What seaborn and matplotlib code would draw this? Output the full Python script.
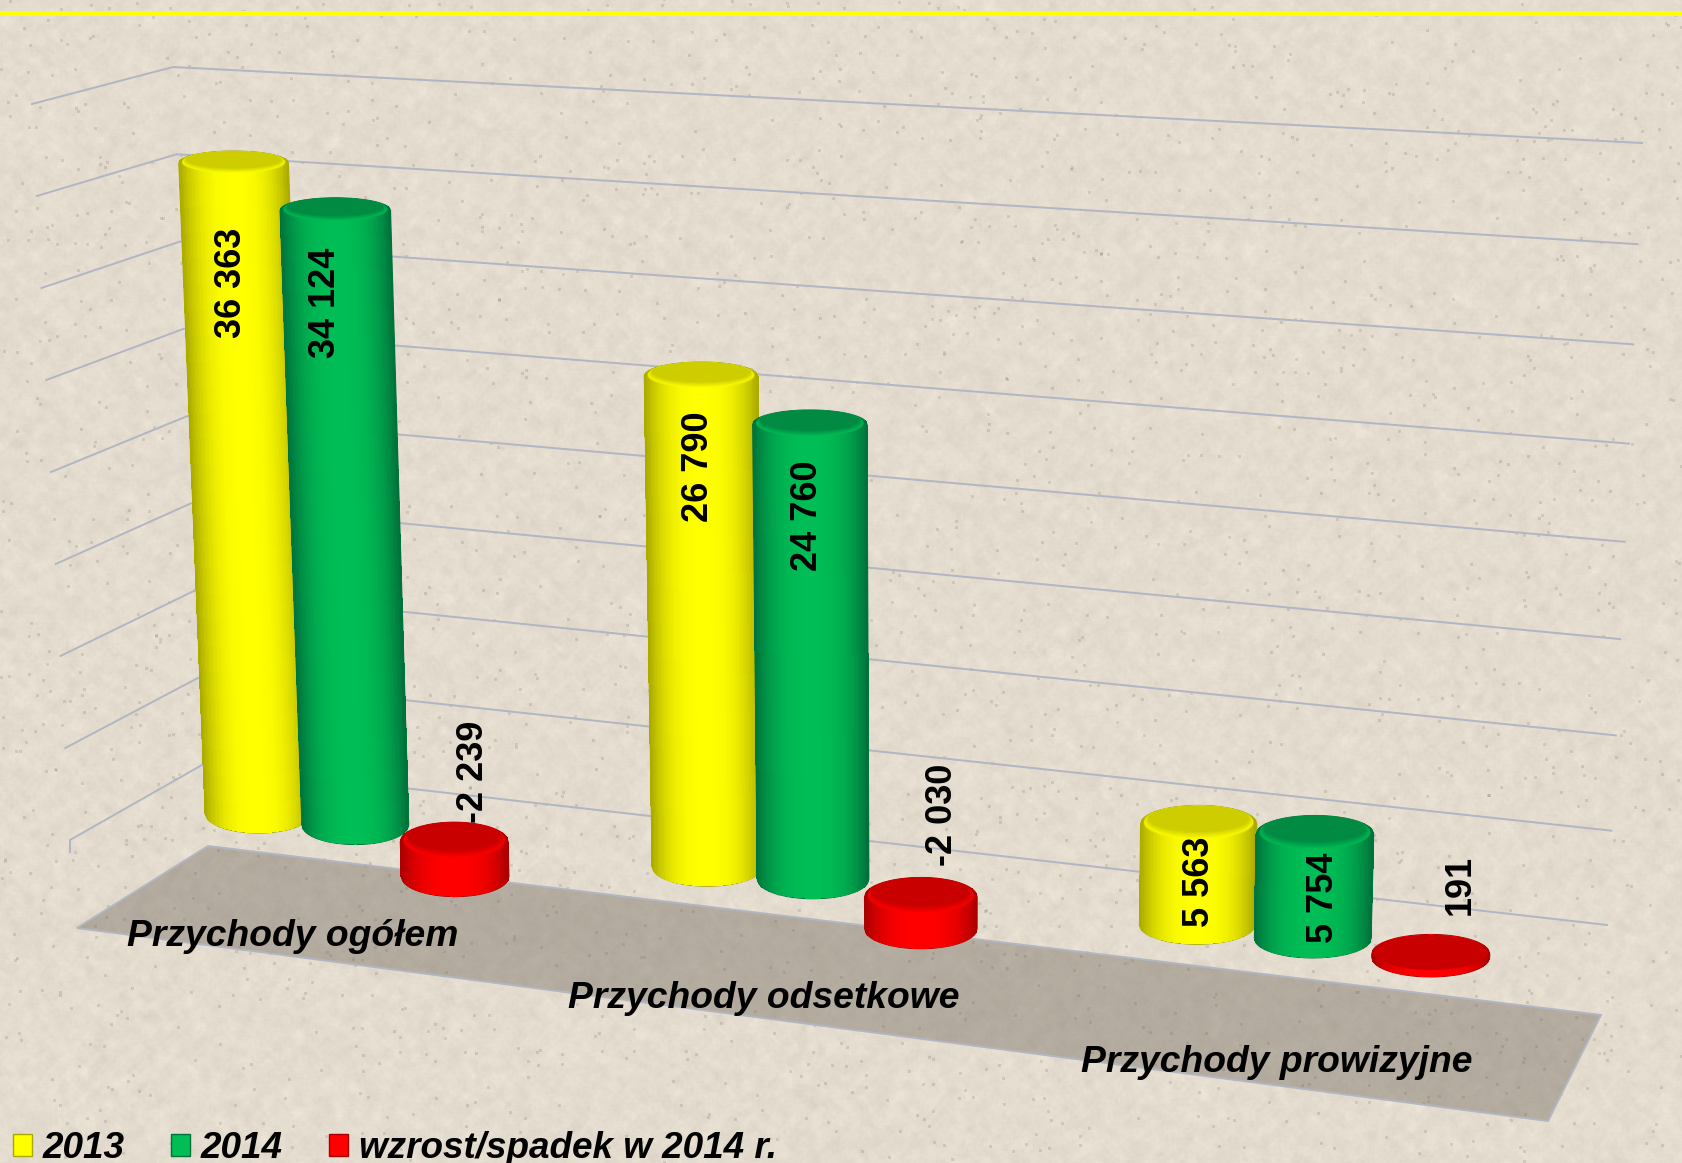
import numpy as np
import pandas as pd
import matplotlib
matplotlib.use("Agg")
import matplotlib.pyplot as plt
from matplotlib.patches import Patch, Polygon
import seaborn as sns

plt.rcParams["font.family"] = ["Liberation Sans", "DejaVu Sans"]

# data
categories = ["Przychody ogółem", "Przychody odsetkowe", "Przychody prowizyjne"]
series_names = ["2013", "2014", "wzrost/spadek w 2014 r."]
values_2013 = [36363, 26790, 5563]
values_2014 = [34124, 24760, 5754]
values_change = [-2239, -2030, 191]
grid_ticks = [0, 5000, 10000, 15000, 20000, 25000, 30000, 35000, 40000]

colors = ["#ffff00", "#00bd55", "#ff0000"]
edge_colors = ["#a8a800", "#00703a", "#a80000"]
cap_colors = ["#cdcd00", "#008a42", "#c80000"]

W, H = 1683, 1163
VMAX = 40000
BOW = 2.5e-11  # value axis is slightly compressed towards the top
BUMP = 5.96e-11  # and stretched around the middle
NEG_SCALE = 0.88  # the part below zero is seen flatter
X_BOW = 0.094  # category axis gets wider towards the viewer
X0, X1 = -0.2333, 2.2333
CHANGE_DROP = 5  # the change series sits a little nearer the viewer

# label nudges in pixels from the cap centre, same order as the bars
label_nudge = {
    (0, 0): (-2, 120), (0, 1): (-10, 93), (0, 2): (19, -65),
    (1, 0): (-3, 91), (1, 1): (-2, 91), (1, 2): (22, -77),
    (2, 0): (1, 58), (2, 1): (9, 64), (2, 2): (29, -64),
}
cat_label_pos = [(293, 933), (764, 995), (1277, 1059)]


def homography(src, dst):
    rows, rhs = [], []
    for (x, y), (u, v) in zip(src, dst):
        rows.append([x, y, 1, 0, 0, 0, -u * x, -u * y])
        rows.append([0, 0, 0, x, y, 1, -v * x, -v * y])
        rhs += [u, v]
    return np.append(np.linalg.solve(np.array(rows, float), np.array(rhs, float)), 1).reshape(3, 3)


# 3D view of the bar plane: category position + value -> picture pixels
view = homography(
    [(0, 0), (1, 0), (0, 1), (1, 1)],
    [(254, 813), (1436, 953), (227, 106), (1456, 238)],
)


def project(x, v):
    u = (x - X0) / (X1 - X0)
    u = u / (1 + X_BOW * (1 - u))
    t = v * (1 - BOW * v ** 2) / (VMAX * (1 - BOW * VMAX ** 2))
    if v < 0:
        t = t * NEG_SCALE
    else:
        t = t + BUMP * v ** 2 * (1 - v / VMAX)
    p = view @ np.array([u, t, 1.0])
    return p[0] / p[2], p[1] / p[2]


def grid_line(v):
    t = v / VMAX
    tr = t * (1 - 0.04 * (1 - t))
    left = (70 - 38 * t, 840 - 736 * t)
    corner = (202 - 29 * t, 765 - 698 * t)
    right = (1607 + 35 * t, 925 - 782 * tr)
    return np.array([left, corner, right])


def box_blur(a, r):
    return sum(np.roll(np.roll(a, i, 0), j, 1) for i in range(-r, r + 1) for j in range(-r, r + 1)) / (2 * r + 1) ** 2


fig = plt.figure(figsize=(W / 100, H / 100), dpi=100)

# the bars come from seaborn, their geometry is then drawn as cylinders
ax_bar = fig.add_axes([0, 0, 1, 1], zorder=0)
df = pd.DataFrame({
    "kategoria": categories * 3,
    "seria": np.repeat(series_names, 3),
    "wartosc": values_2013 + values_2014 + values_change,
})
sns.barplot(data=df, x="kategoria", y="wartosc", hue="seria", palette=colors,
            width=0.67, legend=False, errorbar=None, ax=ax_bar)
ax_bar.set_axis_off()

ax = fig.add_axes([0, 0, 1, 1], zorder=1)
ax.set_xlim(0, W)
ax.set_ylim(H, 0)
ax.set_axis_off()

# paper background
rng = np.random.default_rng(7)
noise = rng.normal(0, 1, (H, W))
soft = box_blur(noise, 2) * 5
blotch = box_blur(noise, 6) * 13
specks = box_blur((rng.random((H, W)) > 0.9988).astype(float), 1) * 9
paper = np.array([228, 220, 206.0])
bg = paper[None, None, :] + (1.6 * soft + 1.2 * blotch + 0.7 * noise - 22 * specks)[:, :, None]
ax.imshow(np.clip(bg, 0, 255).astype(np.uint8), extent=(0, W, H, 0), aspect="auto", zorder=0)
ax.axhspan(10.5, 16, color="#ffff00", lw=0, zorder=1)

# walls
grid_col = "#b0b6c2"
for tick in grid_ticks:
    pts = grid_line(tick)
    ax.plot(pts[:, 0], pts[:, 1], color=grid_col, lw=1.4, zorder=2)
p0 = grid_line(0)[0]
ax.plot([p0[0], p0[0]], [p0[1], p0[1] + 12], color=grid_col, lw=1.4, zorder=2)

# floor plate under the category names
ax.add_patch(Polygon([(208, 846), (1601, 1015), (1548, 1121), (77, 928)], closed=True,
                     facecolor=(0.42, 0.39, 0.35, 0.40), edgecolor=grid_col, lw=1.4, zorder=3))


def draw_cylinder(x0, width, val, idx, z):
    xc = x0 + width / 2
    top_val, bot_val = max(val, 0), min(val, 0)
    ct, cb = project(xc, top_val), project(xc, bot_val)
    if idx == 2:
        ct, cb = (ct[0], ct[1] + CHANGE_DROP), (cb[0], cb[1] + CHANGE_DROP)
    grow = 1.09 - 0.045 * xc
    hw_t = (project(x0 + width, top_val)[0] - project(x0, top_val)[0]) / 2 * grow
    hw_b = (project(x0 + width, bot_val)[0] - project(x0, bot_val)[0]) / 2 * grow
    kt = 19.5 - 7.5 * top_val / 36363
    kb = 19.5 - 7.5 * bot_val / 36363

    u = np.linspace(-1, 1, 81)
    arc = np.sqrt(1 - u ** 2)
    X = np.vstack([ct[0] + hw_t * u, cb[0] + hw_b * u])
    Y = np.vstack([ct[1] - kt * arc, cb[1] + kb * arc])
    um = (u[:-1] + u[1:]) / 2
    shade = np.abs(um) ** 2.6
    c0 = np.array(matplotlib.colors.to_rgb(colors[idx]))
    c1 = np.array(matplotlib.colors.to_rgb(edge_colors[idx]))
    c2 = np.array(matplotlib.colors.to_rgb(cap_colors[idx]))
    C = (c0[None, :] * (1 - shade[:, None]) + c1[None, :] * shade[:, None])[None, :, :]

    outline = np.vstack([np.column_stack([X[0], Y[0]]), np.column_stack([X[1], Y[1]])[::-1]])
    ax.add_patch(Polygon(outline, closed=True, facecolor=edge_colors[idx],
                         edgecolor=edge_colors[idx], lw=0.8, zorder=z))
    ax.pcolormesh(X, Y, C, shading="flat", antialiased=False, zorder=z + 0.1)

    # top face with a soft bevel, thin bars are almost only the face
    t = np.linspace(0, 2 * np.pi, 90)
    if abs(val) < 500:
        ax.fill(ct[0] + 0.97 * hw_t * np.cos(t), ct[1] - 0.08 * kt + 0.9 * kt * np.sin(t),
                color=c2, lw=0, zorder=z + 0.2)
        return
    steps = np.linspace(0, 1, 7)
    for n, f in enumerate(steps):
        rx = (0.95 + (0.87 - 0.95) * f) * hw_t
        ry = (0.92 + (0.72 - 0.92) * f) * kt
        dy = (-0.05 + (-0.28 + 0.05) * f) * kt
        col = c0 * (1 - f) + c2 * f
        alpha = 0.35 if n == 0 else 1.0
        ax.fill(ct[0] + rx * np.cos(t), ct[1] + dy + ry * np.sin(t), color=col, alpha=alpha,
                lw=0, zorder=z + 0.2 + n * 0.01)


bars = []
for idx, container in enumerate(ax_bar.containers):
    for cat, rect in enumerate(container.patches):
        rect.set_visible(False)
        bars.append((rect.get_x(), rect.get_width(), rect.get_height(), idx, cat))
bars.sort(key=lambda b: b[0])

for n, (x0, width, val, idx, cat) in enumerate(bars):
    draw_cylinder(x0, width, val, idx, 10 + n)

# value labels go on top of all cylinders
for x0, width, val, idx, cat in bars:
    cx, cy = project(x0 + width / 2, max(val, 0))
    dx, dy = label_nudge[(cat, idx)]
    txt = f"{int(round(val)):,}".replace(",", " ")
    ax.text(cx + dx, cy + dy, txt, rotation=90, ha="center", va="center",
            fontsize=26, fontweight="bold", color="black", zorder=50)

for name, (tx, ty) in zip(categories, cat_label_pos):
    ax.text(tx, ty + 3, name, ha="center", va="center", fontsize=26.8,
            fontweight="bold", fontstyle="italic", color="black", zorder=50)

handles = [Patch(facecolor=c, edgecolor=e, lw=1) for c, e in zip(colors, edge_colors)]
fig.legend(handles, series_names, loc="lower left", bbox_to_anchor=(0.0075, -0.0025), ncol=3,
           frameon=False, borderaxespad=0, borderpad=0, handlelength=0.52, handleheight=0.52,
           handletextpad=0.29, columnspacing=1.25,
           prop={"family": "Liberation Sans", "weight": "bold", "style": "italic", "size": 26.6})

fig.savefig("out.png", dpi=100)
